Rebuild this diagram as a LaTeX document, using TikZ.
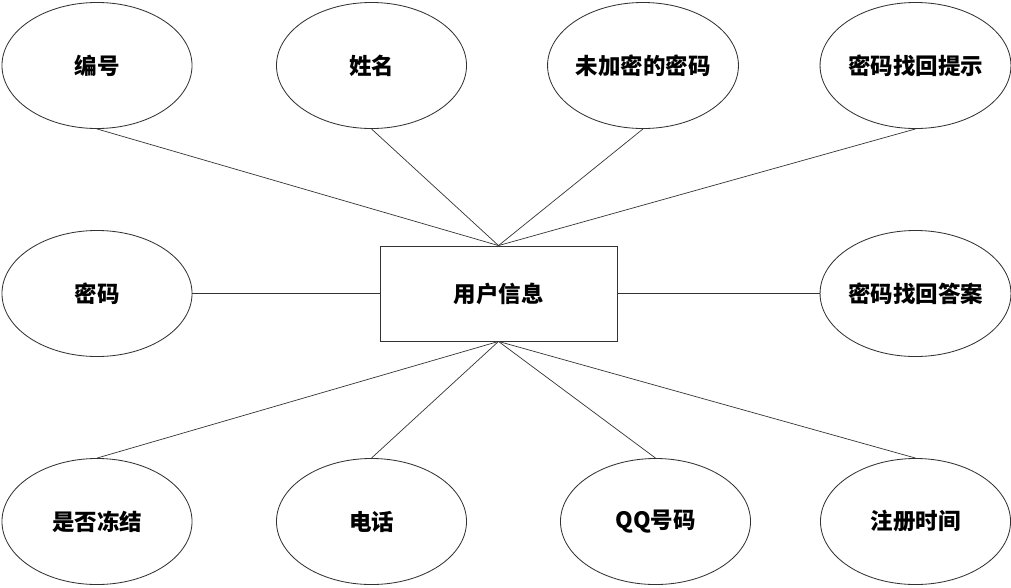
\documentclass[tikz,border=0pt]{standalone}
\usepackage{fontspec}
\newfontfamily\cjk{Noto Sans CJK SC}
\usetikzlibrary{shapes,positioning}

\begin{document}
\begin{tikzpicture}[
    x=0.025cm, y=-0.025cm,
    attr/.style={ellipse, draw=black!80, line width=0.6pt, minimum width=4.75cm, minimum height=3.15cm, inner sep=0pt, font=\cjk\bfseries\fontsize{16}{19}\selectfont},
    entity/.style={rectangle, draw=black!80, line width=0.6pt, minimum width=5.925cm, minimum height=2.375cm, inner sep=0pt, font=\cjk\bfseries\fontsize{16}{19}\selectfont},
    link/.style={draw=black!80, line width=0.5pt}
]
\useasboundingbox (0,0) rectangle (1011,587);

% Entity
\node (user) [entity] at (498.5,293.5) {用户信息};

% Attributes, top row
\node (id) [attr] at (97,65.5) {编号};
\node (name) [attr] at (371.5,65.5) {姓名};
\node (plainpwd) [attr] at (643,65.5) {未加密的密码};
\node (hint) [attr] at (915.5,65.5) {密码找回提示};

% Attributes, middle row
\node (pwd) [attr] at (97,293.5) {密码};
\node (answer) [attr] at (915.5,293.5) {密码找回答案};

% Attributes, bottom row
\node (frozen) [attr] at (97,521.5) {是否冻结};
\node (phone) [attr] at (371.5,521.5) {电话};
\node (qq) [attr] at (655.5,521.5) {QQ号码};
\node (regtime) [attr] at (915.5,521.5) {注册时间};

% Connections
\foreach \a in {id,name,plainpwd,hint}
    \draw[link] (user.north) -- (\a.south);
\foreach \a in {frozen,phone,qq,regtime}
    \draw[link] (user.south) -- (\a.north);
\draw[link] (pwd.east) -- (user.west);
\draw[link] (user.east) -- (answer.west);

\end{tikzpicture}
\end{document}
